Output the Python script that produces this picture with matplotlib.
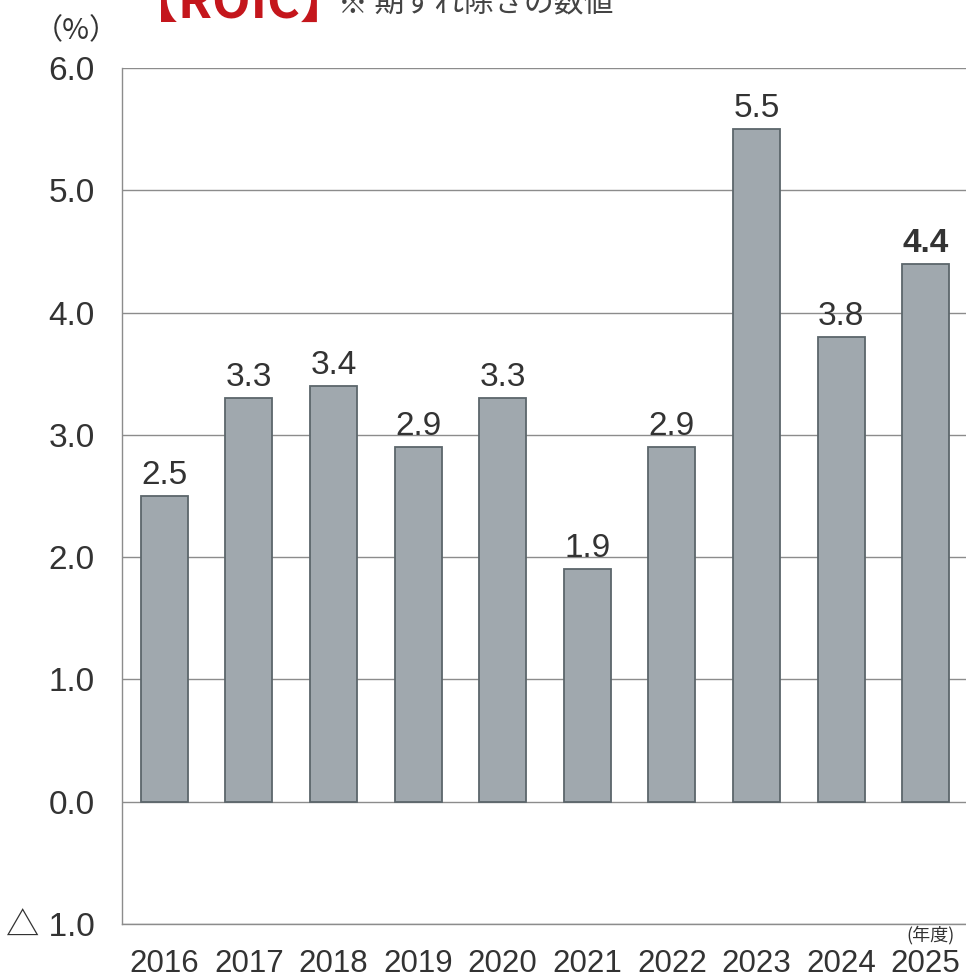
import matplotlib
matplotlib.use("Agg")
import matplotlib.pyplot as plt

years = ["2016", "2017", "2018", "2019", "2020", "2021", "2022", "2023", "2024", "2025"]
roic = [2.5, 3.3, 3.4, 2.9, 3.3, 1.9, 2.9, 5.5, 3.8, 4.4]
yticks = [-1.0, 0.0, 1.0, 2.0, 3.0, 4.0, 5.0, 6.0]
ytick_labels = ["△ 1.0", "0.0", "1.0", "2.0", "3.0", "4.0", "5.0", "6.0"]

plt.rcParams['font.family'] = ['Liberation Sans', 'Noto Sans CJK JP', 'DejaVu Sans']

W, H = 966, 975
fig = plt.figure(figsize=(W / 100, H / 100), dpi=100)
ax = fig.add_axes([122 / W, 1 - 924 / H, (968 - 122) / W, (924 - 68) / H])

x = list(range(len(years)))
ax.bar(x, roic, width=0.556, color="#a0a8ae", edgecolor="#5c666b", linewidth=1.3, zorder=3)

ax.set_xlim(-0.5, 9.5)
ax.set_ylim(-1.0, 6.0)
ax.set_yticks(yticks)
ax.set_yticklabels(ytick_labels, fontsize=24, color="#333333", family=['Liberation Sans', 'Noto Sans CJK JP'])
ax.yaxis.grid(True, color="#8c8c8c", linewidth=1.0, zorder=0)
ax.tick_params(axis='y', length=0, pad=19.5)
ax.set_xticks(x)
ax.set_xticklabels(years, fontsize=22.5, color="#333333")
ax.tick_params(axis='x', length=0, pad=18)

for s in ["top", "right"]:
    ax.spines[s].set_visible(False)
for s in ["left", "bottom"]:
    ax.spines[s].set_color("#8c8c8c")
    ax.spines[s].set_linewidth(1.0)

for i, v in enumerate(roic):
    bold = (i == len(roic) - 1)
    ax.text(i, v + 0.04, f"{v:.1f}", ha="center", va="bottom", fontsize=24,
            color="#333333", fontweight="bold" if bold else "normal", zorder=4)

fig.text(76 / W, 1 - 31 / H, "（%）", ha="center", va="center", fontsize=21, color="#333333",
         family=['Noto Sans CJK JP'])
fig.text(930 / W, 1 - 935 / H, "(年度)", ha="center", va="center", fontsize=13, color="#333333",
         family=['Noto Sans CJK JP'])
fig.text(128 / W, 1 - 18 / H, "【ROIC】", ha="left", va="baseline", fontsize=36, color="#c4161c",
         fontweight="bold", family=['Noto Sans CJK JP'])
fig.text(338 / W, 1 - 11 / H, "※ 期ずれ除きの数値", ha="left", va="baseline", fontsize=21.5, color="#444444",
         family=['Noto Sans CJK JP'])

fig.savefig("out.png", dpi=100)
